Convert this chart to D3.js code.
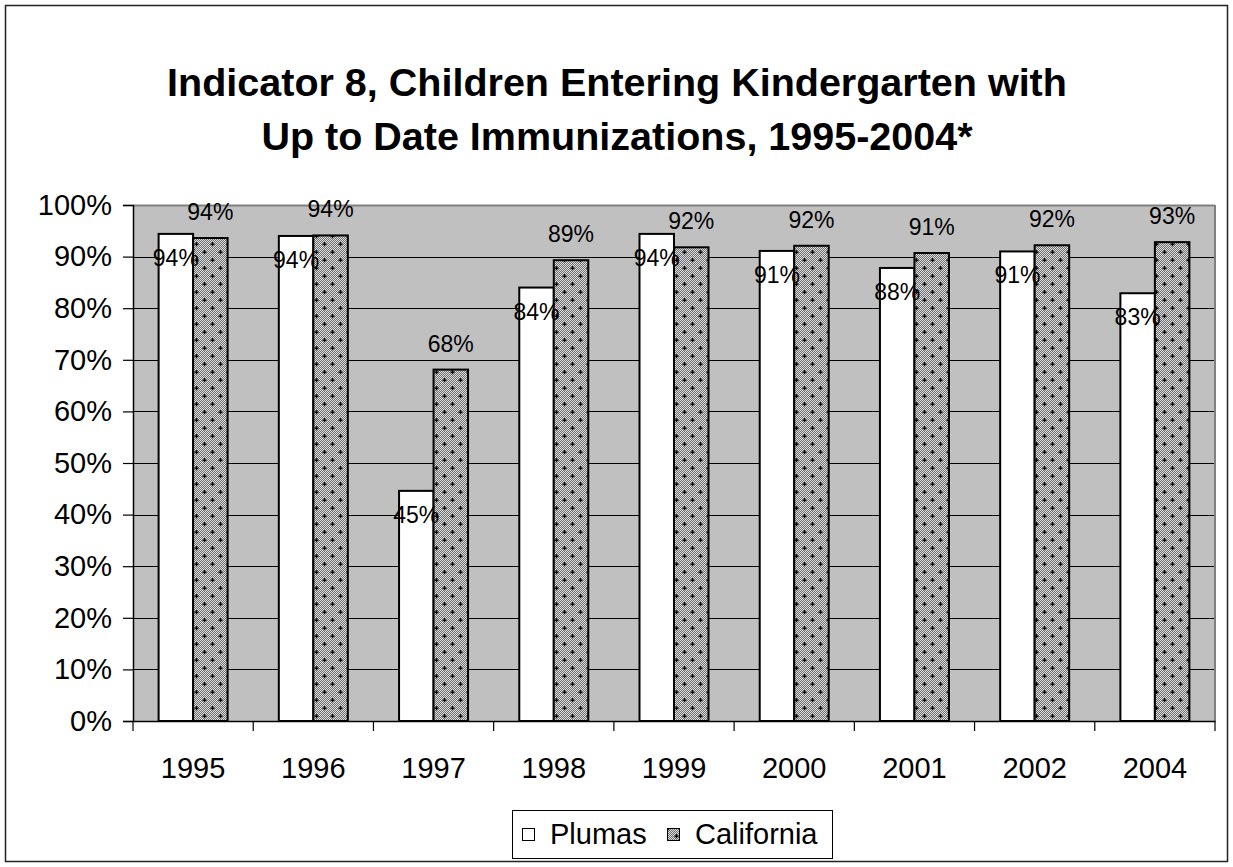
<!DOCTYPE html>
<html>
<head>
<meta charset="utf-8">
<script src="https://cdn.jsdelivr.net/npm/d3@7"></script>
<style>
body { margin: 0; background: #fff; }
svg { font-family: Arial, "Liberation Sans", sans-serif; }
</style>
</head>
<body>
<svg id="chart" width="1233" height="867"></svg>
<script>
// data
var years = ["1995", "1996", "1997", "1998", "1999", "2000", "2001", "2002", "2004"];
var plumas = [0.944, 0.940, 0.446, 0.840, 0.944, 0.911, 0.878, 0.910, 0.829];
var california = [0.936, 0.941, 0.681, 0.893, 0.918, 0.921, 0.907, 0.922, 0.928];
var seriesNames = ["Plumas", "California"];
var yTicks = [0, 0.1, 0.2, 0.3, 0.4, 0.5, 0.6, 0.7, 0.8, 0.9, 1.0];

var W = 1233, H = 867;
var plot = { left: 133, top: 205, right: 1215, bottom: 721 };

var svg = d3.select("#chart");

// pattern for the California bars
var defs = svg.append("defs");
var pat = defs.append("pattern")
	.attr("id", "dots")
	.attr("patternUnits", "userSpaceOnUse")
	.attr("width", 16).attr("height", 16);
pat.append("rect").attr("width", 16).attr("height", 16).attr("fill", "#707070");
for (var i = 0; i < 16; i++) {
	for (var j = 0; j < 16; j++) {
		if ((i + j) % 2 == 0) {
			pat.append("rect").attr("x", i).attr("y", j).attr("width", 1).attr("height", 1).attr("fill", "#dcdcdc");
		}
	}
}
[[4, 4], [12, 12]].forEach(function (c) {
	pat.append("rect").attr("x", c[0] - 1.5).attr("y", c[1] - 0.5).attr("width", 4).attr("height", 1.4).attr("fill", "#000");
	pat.append("rect").attr("x", c[0] - 0.2).attr("y", c[1] - 1.8).attr("width", 1.4).attr("height", 4).attr("fill", "#000");
});

// outer frame
svg.append("rect")
	.attr("x", 5.5).attr("y", 5.5)
	.attr("width", 1222).attr("height", 856)
	.attr("fill", "#fff").attr("stroke", "#222").attr("stroke-width", 1.5);

// title
var title = svg.append("text")
	.attr("text-anchor", "middle")
	.attr("font-weight", "bold")
	.attr("font-size", 39.5);
title.append("tspan").attr("x", 617).attr("y", 96).text("Indicator 8, Children Entering Kindergarten with");
title.append("tspan").attr("x", 617).attr("y", 150).text("Up to Date Immunizations, 1995-2004*");

var x = d3.scaleBand().domain(years).range([plot.left, plot.right]);
var y = d3.scaleLinear().domain([0, 1]).range([plot.bottom, plot.top]);
var barW = 34.5;

// plot background
svg.append("rect")
	.attr("x", plot.left).attr("y", plot.top)
	.attr("width", plot.right - plot.left).attr("height", plot.bottom - plot.top)
	.attr("fill", "#c0c0c0");

// gridlines
svg.selectAll(".grid")
	.data(yTicks.slice(1))
	.enter()
	.append("line")
	.attr("x1", plot.left).attr("x2", plot.right)
	.attr("y1", function (d) { return Math.round(y(d)) + 0.5; })
	.attr("y2", function (d) { return Math.round(y(d)) + 0.5; })
	.attr("stroke", function (d) { return d == 1 ? "#808080" : "#000"; })
	.attr("stroke-width", function (d) { return d == 1 ? 2 : 1.2; });

// right border of plot
svg.append("line")
	.attr("x1", plot.right).attr("x2", plot.right)
	.attr("y1", plot.top).attr("y2", plot.bottom)
	.attr("stroke", "#808080").attr("stroke-width", 2);

// bars
var fmt = d3.format(".0%");
var series = [
	{ name: "Plumas", values: plumas, fill: "#fff", off: -barW },
	{ name: "California", values: california, fill: "url(#dots)", off: 0 }
];
series.forEach(function (s) {
	svg.selectAll(".bar-" + s.name)
		.data(s.values)
		.enter()
		.append("rect")
		.attr("x", function (d, i) { return x(years[i]) + x.bandwidth() / 2 + s.off; })
		.attr("y", function (d) { return y(d); })
		.attr("width", barW)
		.attr("height", function (d) { return y(0) - y(d); })
		.attr("fill", s.fill)
		.attr("stroke", "#000")
		.attr("stroke-width", 2);
});

// axes
var yAxis = d3.axisLeft(y).tickValues(yTicks).tickFormat(fmt).tickSize(10).tickPadding(11);
var gy = svg.append("g").attr("transform", "translate(" + plot.left + ",0)").call(yAxis);
gy.selectAll("text").attr("font-size", 29).attr("fill", "#000").attr("font-family", "Arial, 'Liberation Sans', sans-serif");
gy.selectAll("line").attr("stroke", "#000").attr("stroke-width", 1.2);
gy.select(".domain").attr("stroke", "#000").attr("stroke-width", 1.5);

var xAxis = d3.axisBottom(x).tickSize(0).tickPadding(36);
var gx = svg.append("g").attr("transform", "translate(0," + plot.bottom + ")").call(xAxis);
gx.selectAll("text").attr("font-size", 29).attr("fill", "#000").attr("font-family", "Arial, 'Liberation Sans', sans-serif");
gx.select(".domain").attr("stroke", "#000").attr("stroke-width", 1.5);
// category separators
gx.selectAll(".sep")
	.data(years.concat(["end"]))
	.enter()
	.append("line")
	.attr("x1", function (d, i) { return plot.left + i * x.step(); })
	.attr("x2", function (d, i) { return plot.left + i * x.step(); })
	.attr("y1", 0).attr("y2", 10)
	.attr("stroke", "#000").attr("stroke-width", 1.2);

// data labels
svg.selectAll(".lab-p")
	.data(plumas)
	.enter()
	.append("text")
	.attr("x", function (d, i) { return x(years[i]) + x.bandwidth() / 2 - barW / 2; })
	.attr("y", function (d) { return y(d) + 24; })
	.attr("dy", "0.35em")
	.attr("text-anchor", "middle")
	.attr("font-size", 23)
	.text(function (d) { return fmt(d); });

svg.selectAll(".lab-c")
	.data(california)
	.enter()
	.append("text")
	.attr("x", function (d, i) { return x(years[i]) + x.bandwidth() / 2 + barW / 2; })
	.attr("y", function (d) { return y(d) - 26; })
	.attr("dy", "0.35em")
	.attr("text-anchor", "middle")
	.attr("font-size", 23)
	.text(function (d) { return fmt(d); });

// legend
var lg = svg.append("g");
lg.append("rect")
	.attr("x", 512.5).attr("y", 810.5)
	.attr("width", 320).attr("height", 48)
	.attr("fill", "#fff").attr("stroke", "#000").attr("stroke-width", 1);
var legX = [522, 667];
series.forEach(function (s, i) {
	lg.append("rect")
		.attr("x", legX[i] + 0.5).attr("y", 828.5)
		.attr("width", 12).attr("height", 12)
		.attr("fill", s.fill).attr("stroke", "#000").attr("stroke-width", 1);
	lg.append("text")
		.attr("x", legX[i] + 28).attr("y", 834)
		.attr("dy", "0.35em")
		.attr("font-size", 29)
		.text(seriesNames[i]);
});
</script>
</body>
</html>
